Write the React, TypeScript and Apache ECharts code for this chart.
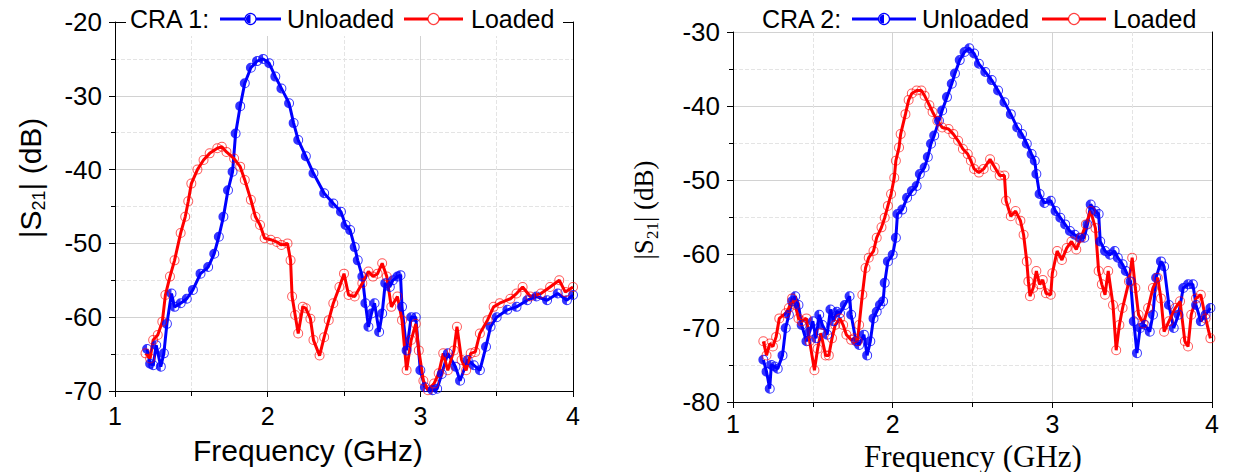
import React, { useEffect, useRef } from "react";
import * as echarts from "echarts";

// ---------- DATA ----------
const xTickValues = [1, 2, 3, 4];
const cra1YRange = [-70, -20];
const cra2YRange = [-80, -30];

const cra1UnloadedFreq = [1.21,1.23,1.25,1.27,1.30,1.32,1.34,1.37,1.39,1.43,1.47,1.51,1.56,1.61,1.65,1.68,1.71,1.74,1.77,1.79,1.82,1.85,1.89,1.93,1.97,2.01,2.05,2.09,2.14,2.17,2.20,2.25,2.30,2.37,2.43,2.48,2.51,2.54,2.57,2.59,2.62,2.64,2.66,2.68,2.70,2.73,2.75,2.77,2.80,2.82,2.85,2.87,2.88,2.91,2.94,2.97,3.00,3.03,3.08,3.11,3.14,3.18,3.23,3.26,3.31,3.35,3.39,3.43,3.46,3.50,3.57,3.63,3.70,3.76,3.83,3.90,3.96,4.00];
const cra1UnloadedDb = [-64.3,-66.3,-66.5,-63.8,-66.7,-64.9,-60.9,-56.8,-58.6,-58.1,-57.5,-56.3,-54.1,-53.2,-51.4,-49.1,-46.4,-42.8,-40.3,-35.1,-31.4,-28.3,-26.2,-25.3,-25.0,-25.6,-27.4,-29.0,-31.0,-33.7,-36.0,-38.2,-40.5,-43.2,-44.6,-45.7,-47.5,-48.2,-50.5,-52.3,-54.5,-58.1,-61.3,-59.5,-58.1,-62.0,-59.5,-55.4,-55.9,-55.0,-54.5,-54.3,-58.6,-64.5,-60.0,-60.0,-67.2,-69.5,-69.9,-69.7,-67.7,-64.9,-66.7,-68.6,-65.8,-66.5,-67.2,-64.0,-61.3,-60.0,-59.0,-58.6,-57.7,-57.2,-57.7,-56.8,-57.7,-57.0];

const cra1LoadedFreq = [1.20,1.23,1.25,1.28,1.31,1.33,1.36,1.39,1.43,1.46,1.48,1.50,1.54,1.58,1.62,1.67,1.70,1.73,1.78,1.82,1.85,1.89,1.92,1.95,1.98,2.02,2.06,2.09,2.13,2.15,2.16,2.18,2.20,2.23,2.25,2.28,2.30,2.34,2.37,2.40,2.43,2.47,2.50,2.53,2.57,2.62,2.66,2.69,2.72,2.75,2.78,2.81,2.85,2.88,2.91,2.94,2.97,2.99,3.02,3.05,3.09,3.12,3.15,3.18,3.22,3.24,3.27,3.30,3.33,3.36,3.39,3.44,3.48,3.52,3.59,3.63,3.67,3.72,3.79,3.85,3.91,3.95,4.00];
const cra1LoadedDb = [-64.9,-65.6,-63.1,-62.4,-60.6,-57.0,-54.5,-52.3,-48.6,-46.4,-44.3,-41.9,-40.0,-38.7,-37.8,-37.1,-36.9,-37.6,-38.5,-39.6,-41.4,-44.1,-46.4,-47.5,-49.3,-49.5,-49.8,-50.2,-50.0,-52.3,-57.2,-59.7,-62.2,-58.6,-58.8,-60.2,-63.1,-65.2,-62.7,-60.4,-58.1,-55.9,-54.1,-57.0,-57.2,-55.4,-53.8,-54.5,-54.1,-52.7,-54.5,-58.6,-57.2,-60.4,-67.2,-63.1,-60.9,-64.5,-68.6,-69.9,-69.0,-67.6,-64.9,-67.2,-64.5,-61.3,-65.8,-67.2,-64.9,-64.7,-62.2,-60.4,-58.6,-58.1,-57.5,-56.8,-55.9,-57.2,-56.8,-55.9,-55.0,-56.6,-55.9];

const cra2UnloadedFreq = [1.19,1.21,1.23,1.24,1.26,1.28,1.31,1.33,1.35,1.37,1.39,1.41,1.43,1.46,1.48,1.50,1.52,1.54,1.56,1.59,1.61,1.63,1.65,1.67,1.70,1.73,1.74,1.77,1.79,1.82,1.84,1.86,1.88,1.90,1.92,1.94,1.95,1.97,2.00,2.02,2.03,2.06,2.09,2.12,2.15,2.17,2.20,2.22,2.24,2.26,2.29,2.31,2.34,2.37,2.39,2.42,2.45,2.48,2.51,2.54,2.58,2.62,2.66,2.70,2.74,2.78,2.81,2.84,2.87,2.89,2.90,2.92,2.95,2.99,3.02,3.05,3.08,3.11,3.14,3.17,3.20,3.22,3.24,3.27,3.29,3.30,3.33,3.36,3.39,3.41,3.44,3.46,3.49,3.51,3.53,3.55,3.58,3.61,3.63,3.65,3.68,3.70,3.73,3.76,3.79,3.82,3.85,3.88,3.90,3.93,3.96,3.99];
const cra2UnloadedDb = [-74.3,-75.9,-78.2,-75.0,-75.2,-75.5,-73.7,-70.0,-68.2,-66.4,-65.7,-66.9,-69.6,-71.8,-70.5,-69.1,-71.4,-68.2,-69.6,-70.9,-67.5,-69.1,-67.8,-68.0,-66.9,-65.7,-68.2,-71.8,-72.3,-70.9,-73.7,-71.8,-68.7,-67.8,-66.9,-66.4,-63.9,-61.0,-60.1,-57.8,-54.6,-54.0,-52.4,-51.5,-50.8,-49.2,-48.3,-46.9,-45.1,-44.0,-42.0,-40.6,-38.8,-37.0,-35.6,-33.8,-32.7,-32.2,-32.9,-34.3,-35.4,-36.5,-37.9,-39.5,-41.1,-42.9,-43.8,-45.1,-46.5,-47.4,-49.2,-51.9,-53.1,-52.8,-54.2,-55.1,-56.0,-56.9,-57.4,-57.8,-57.8,-56.0,-53.3,-54.2,-54.6,-58.3,-59.6,-60.1,-59.6,-60.5,-61.4,-62.3,-63.7,-69.1,-73.4,-70.0,-69.6,-70.5,-68.2,-63.2,-61.0,-61.7,-66.9,-70.0,-68.2,-64.6,-64.1,-64.1,-66.9,-69.1,-68.2,-67.3];

const cra2LoadedFreq = [1.19,1.21,1.23,1.25,1.27,1.29,1.33,1.35,1.37,1.39,1.41,1.43,1.46,1.48,1.51,1.53,1.55,1.58,1.60,1.62,1.64,1.67,1.69,1.71,1.74,1.76,1.78,1.79,1.81,1.83,1.85,1.88,1.90,1.93,1.95,1.97,1.99,2.01,2.02,2.04,2.05,2.08,2.10,2.12,2.15,2.18,2.20,2.23,2.25,2.28,2.31,2.35,2.38,2.41,2.44,2.47,2.49,2.51,2.54,2.57,2.61,2.64,2.67,2.70,2.71,2.74,2.77,2.80,2.82,2.84,2.85,2.86,2.88,2.90,2.92,2.94,2.96,2.99,3.00,3.03,3.06,3.09,3.12,3.15,3.18,3.21,3.24,3.27,3.29,3.31,3.33,3.35,3.38,3.40,3.42,3.44,3.48,3.50,3.52,3.54,3.57,3.60,3.63,3.66,3.68,3.70,3.73,3.77,3.80,3.83,3.85,3.87,3.90,3.93,3.96,3.99];
const cra2LoadedDb = [-71.8,-73.7,-72.1,-72.5,-71.2,-68.7,-68.0,-67.3,-66.0,-66.9,-68.7,-69.1,-68.7,-71.8,-75.7,-72.8,-70.7,-73.7,-73.7,-71.4,-69.6,-68.7,-69.6,-70.9,-71.6,-71.4,-71.8,-69.6,-65.5,-61.9,-60.5,-59.6,-57.8,-56.4,-55.1,-53.5,-51.9,-49.7,-47.4,-45.6,-43.8,-41.1,-39.2,-38.3,-37.9,-37.9,-38.6,-39.9,-40.8,-42.0,-42.9,-43.1,-43.8,-44.7,-45.8,-46.5,-47.4,-48.5,-49.0,-48.5,-47.2,-48.3,-49.4,-49.4,-52.8,-54.9,-54.2,-55.5,-57.4,-61.0,-63.7,-65.7,-64.6,-62.3,-64.1,-63.5,-65.3,-65.5,-62.6,-59.6,-60.8,-59.2,-58.3,-59.4,-57.8,-56.0,-54.2,-56.5,-62.3,-64.1,-65.5,-62.3,-66.9,-73.0,-69.6,-67.3,-63.7,-60.5,-64.6,-68.2,-69.4,-67.3,-64.6,-63.2,-66.0,-70.5,-69.1,-67.3,-66.4,-71.8,-72.5,-68.2,-66.0,-65.5,-68.7,-71.4];

const seriesNames = ["Unloaded", "Loaded"];
const panelTitles = ["CRA 1:", "CRA 2:"];
const xAxisTitle = "Frequency (GHz)";

// ---------- STYLE ----------
const SANS = "'Liberation Sans', Arial, sans-serif";
const SERIF = "'Liberation Serif', 'Times New Roman', serif";
const BLUE = "#0000ff";
const RED = "#ff0000";

const HALF_SYMBOL =
  "path://M0,-10A10,10 0 1,1 0,10A10,10 0 1,1 0,-10ZM0,-8A8,8 0 1,0 0,8A8,8 0 1,0 0,-8ZM0,-8A8,8 0 0,0 0,8Z";
const RING_SYMBOL =
  "path://M0,-10A10,10 0 1,1 0,10A10,10 0 1,1 0,-10ZM0,-8A8,8 0 1,0 0,8A8,8 0 1,0 0,-8Z";

const zip = (f: number[], d: number[]) => f.map((v, i) => [v, d[i]]);

function mainX(gridIndex: number, margin: number) {
  return {
    type: "value",
    gridIndex,
    min: xTickValues[0],
    max: xTickValues[xTickValues.length - 1],
    interval: 1,
    axisLine: { show: true, onZero: false, lineStyle: { color: "#000", width: 1 } },
    axisTick: { show: true, inside: false, length: 6, lineStyle: { color: "#000", width: 1 } },
    minorTick: { show: true, splitNumber: 2, length: 5, lineStyle: { color: "#000", width: 1 } },
    axisLabel: { fontSize: 25, color: "#000", fontFamily: SANS, margin },
    splitLine: { show: true, lineStyle: { color: "#d2d2d2", width: 1 } },
    minorSplitLine: { show: true, lineStyle: { color: "#e4e4e4", width: 1, type: "dashed" } },
  };
}

function mainY(gridIndex: number, range: number[]) {
  return {
    type: "value",
    gridIndex,
    min: range[0],
    max: range[1],
    interval: 10,
    axisLine: { show: true, onZero: false, lineStyle: { color: "#000", width: 1 } },
    axisTick: { show: true, inside: false, length: 6, lineStyle: { color: "#000", width: 1 } },
    minorTick: { show: true, splitNumber: 2, length: 4, lineStyle: { color: "#000", width: 1 } },
    axisLabel: { fontSize: 26, color: "#000", fontFamily: SANS, margin: 13 },
    splitLine: { show: true, lineStyle: { color: "#d2d2d2", width: 1 } },
    minorSplitLine: { show: true, lineStyle: { color: "#e4e4e4", width: 1, type: "dashed" } },
  };
}

function frameAxis(gridIndex: number, range: number[], position: string) {
  return {
    type: "value",
    gridIndex,
    position,
    min: range[0],
    max: range[1],
    axisLine: { show: true, onZero: false, lineStyle: { color: "#000", width: 1 } },
    axisTick: { show: false },
    axisLabel: { show: false },
    splitLine: { show: false },
  };
}

function lineSeries(name: string, data: number[][], xi: number, yi: number, color: string, symbol: string, symColor: string) {
  return {
    type: "line",
    name,
    xAxisIndex: xi,
    yAxisIndex: yi,
    data,
    symbol,
    symbolSize: 10,
    showSymbol: true,
    showAllSymbol: true,
    lineStyle: { color, width: 3 },
    itemStyle: { color: symColor },
    emphasis: { disabled: true },
  };
}

function legendGraphic(p: { title: number; l1: number[]; t1: number; l2: number[]; t2: number; y: number }, title: string, bg: number[] | null) {
  const y = p.y;
  const els: any[] = [];
  if (bg) {
    els.push({ type: "rect", z: 100, shape: { x: bg[0], y: bg[1], width: bg[2], height: bg[3] }, style: { fill: "#fff" } });
  }
  const txt = (x: number, t: string) => ({
    type: "text",
    z: 101,
    x,
    y,
    style: { text: t, fontSize: 25, fontFamily: SANS, fill: "#000", align: "left", verticalAlign: "middle" },
  });
  els.push(txt(p.title, title));
  els.push({ type: "line", z: 101, shape: { x1: p.l1[0], y1: y, x2: p.l1[1], y2: y }, style: { stroke: BLUE, lineWidth: 3 } });
  const c1 = (p.l1[0] + p.l1[1]) / 2;
  els.push({ type: "circle", z: 102, shape: { cx: c1, cy: y, r: 5.5 }, style: { fill: "#fff", stroke: BLUE, lineWidth: 1.2 } });
  els.push({ type: "sector", z: 103, shape: { cx: c1, cy: y, r0: 0, r: 4.6, startAngle: Math.PI / 2, endAngle: (3 * Math.PI) / 2 }, style: { fill: BLUE } });
  els.push(txt(p.t1, seriesNames[0]));
  els.push({ type: "line", z: 101, shape: { x1: p.l2[0], y1: y, x2: p.l2[1], y2: y }, style: { stroke: RED, lineWidth: 3 } });
  const c2 = (p.l2[0] + p.l2[1]) / 2;
  els.push({ type: "circle", z: 102, shape: { cx: c2, cy: y, r: 5.5 }, style: { fill: "#fff", stroke: "rgba(255,0,0,0.75)", lineWidth: 1.2 } });
  els.push(txt(p.t2, seriesNames[1]));
  return els;
}

function yTitle(x: number, y: number, font: string, size: number, sub: number) {
  return {
    type: "text",
    z: 50,
    x,
    y,
    rotation: Math.PI / 2,
    style: {
      text: "{m||S}{s|21}{m|| (dB)}",
      align: "center",
      verticalAlign: "middle",
      rich: {
        m: { fontSize: size, fontFamily: font, fill: "#000", lineHeight: size + 6 },
        s: { fontSize: sub, fontFamily: font, fill: "#000", lineHeight: sub, verticalAlign: "bottom" },
      },
    },
  };
}

export default function App() {
  const ref = useRef<HTMLDivElement>(null);
  useEffect(() => {
    if (!ref.current) return;
    const chart = echarts.init(ref.current, undefined, { renderer: "svg" });
    const option: any = {
      animation: false,
      backgroundColor: "#fff",
      grid: [
        { left: 115, top: 22, width: 458, height: 369 },
        { left: 733, top: 32, width: 479, height: 370 },
      ],
      xAxis: [
        mainX(0, 12),
        frameAxis(0, [1, 4], "top"),
        mainX(1, 9),
      ],
      yAxis: [
        mainY(0, cra1YRange),
        frameAxis(0, cra1YRange, "right"),
        mainY(1, cra2YRange),
        frameAxis(1, cra2YRange, "right"),
      ],
      series: [
        lineSeries(seriesNames[0], zip(cra1UnloadedFreq, cra1UnloadedDb), 0, 0, BLUE, HALF_SYMBOL, "rgba(0,0,255,0.8)"),
        lineSeries(seriesNames[1], zip(cra1LoadedFreq, cra1LoadedDb), 0, 0, RED, RING_SYMBOL, "rgba(255,0,0,0.65)"),
        lineSeries(seriesNames[0], zip(cra2UnloadedFreq, cra2UnloadedDb), 2, 2, BLUE, HALF_SYMBOL, "rgba(0,0,255,0.8)"),
        lineSeries(seriesNames[1], zip(cra2LoadedFreq, cra2LoadedDb), 2, 2, RED, RING_SYMBOL, "rgba(255,0,0,0.65)"),
      ],
      graphic: [
        ...legendGraphic({ title: 130, l1: [220, 281], t1: 287, l2: [404, 463], t2: 471, y: 19 }, panelTitles[0], [126, 4, 437, 32]),
        ...legendGraphic({ title: 762, l1: [852, 916], t1: 922, l2: [1042, 1106], t2: 1113, y: 19 }, panelTitles[1], null),
        yTitle(30, 178, SANS, 30, 18),
        yTitle(644, 210, SERIF, 27, 17),
        {
          type: "text", z: 50, x: 308, y: 450,
          style: { text: xAxisTitle, fontSize: 30, fontFamily: SANS, fill: "#000", align: "center", verticalAlign: "middle" },
        },
        {
          type: "text", z: 50, x: 973, y: 456,
          style: { text: xAxisTitle, fontSize: 31, fontFamily: SERIF, fill: "#000", align: "center", verticalAlign: "middle" },
        },
      ],
    };
    chart.setOption(option);
    return () => chart.dispose();
  }, []);
  return <div ref={ref} style={{ position: "fixed", left: 0, top: 0, width: 1234, height: 472 }} />;
}
